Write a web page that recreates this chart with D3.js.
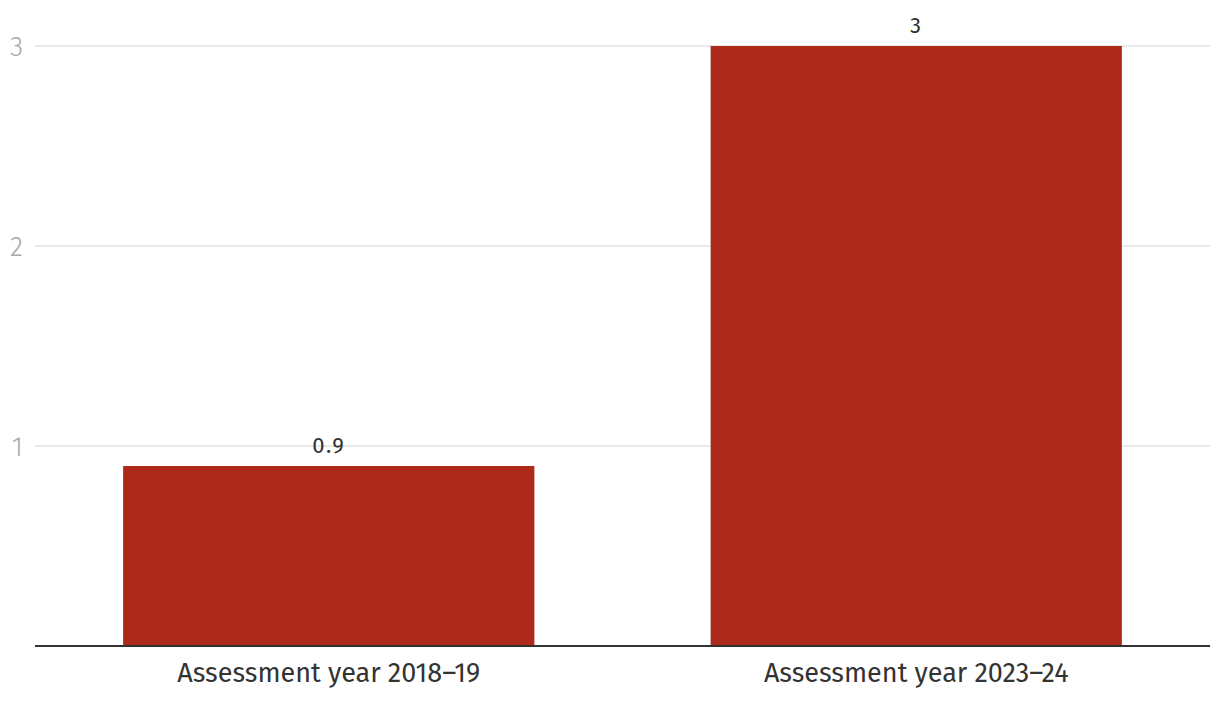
<!DOCTYPE html>
<html><head><meta charset="utf-8">
<script src="https://cdn.jsdelivr.net/npm/d3@7"></script>
<style>body{margin:0;background:#fff}svg{display:block}</style>
</head><body><svg id="c" width="1220" height="706"></svg>
<script>
const categories = ["Assessment year 2018–19", "Assessment year 2023–24"];
const values = [0.9, 3];
const valueLabels = ["0.9", "3"];
const yTicks = [1, 2, 3];

const W = 1220, H = 706;
const m = {left: 35, right: 10, top: 46, bottom: 60};
const svg = d3.select("#c");
const font = "'Fira Sans','Open Sans','DejaVu Sans',sans-serif";

const x = d3.scaleBand().domain(categories).range([m.left, W - m.right]).paddingInner(0.3).paddingOuter(0.15);
const y = d3.scaleLinear().domain([0, 3]).range([H - m.bottom, m.top]);

// gridlines
svg.append("g").selectAll("line").data(yTicks).join("line")
  .attr("x1", m.left).attr("x2", W - m.right)
  .attr("y1", d => y(d)).attr("y2", d => y(d))
  .attr("stroke", "#e3e3e3").attr("stroke-width", 1.5);

// y tick labels
svg.append("g").selectAll("text").data(yTicks).join("text")
  .attr("x", 23).attr("y", d => y(d)).attr("dy", "0.36em")
  .attr("text-anchor", "end").attr("fill", "#a8a8a8")
  .style("font-family", font).style("font-size", "27px").style("font-weight", 300)
  .text(d => d);

// bars
svg.append("g").selectAll("rect").data(values).join("rect")
  .attr("x", (d, i) => x(categories[i])).attr("width", x.bandwidth())
  .attr("y", d => y(d)).attr("height", d => y(0) - y(d))
  .attr("fill", "#ad2a1a");

// value labels
svg.append("g").selectAll("text").data(values).join("text")
  .attr("x", (d, i) => x(categories[i]) + x.bandwidth() / 2)
  .attr("y", d => y(d) - 13)
  .attr("text-anchor", "middle").attr("fill", "#333")
  .style("font-family", font).style("font-size", "22px").style("letter-spacing", "1.5px")
  .text((d, i) => valueLabels[i]);

// baseline
svg.append("line").attr("x1", m.left).attr("x2", W - m.right)
  .attr("y1", y(0)).attr("y2", y(0)).attr("stroke", "#333").attr("stroke-width", 2);

// category labels
svg.append("g").selectAll("text").data(categories).join("text")
  .attr("x", d => x(d) + x.bandwidth() / 2).attr("y", y(0) + 36)
  .attr("text-anchor", "middle").attr("fill", "#333")
  .style("font-family", font).style("font-size", "27px")
  .text(d => d);
</script></body></html>
